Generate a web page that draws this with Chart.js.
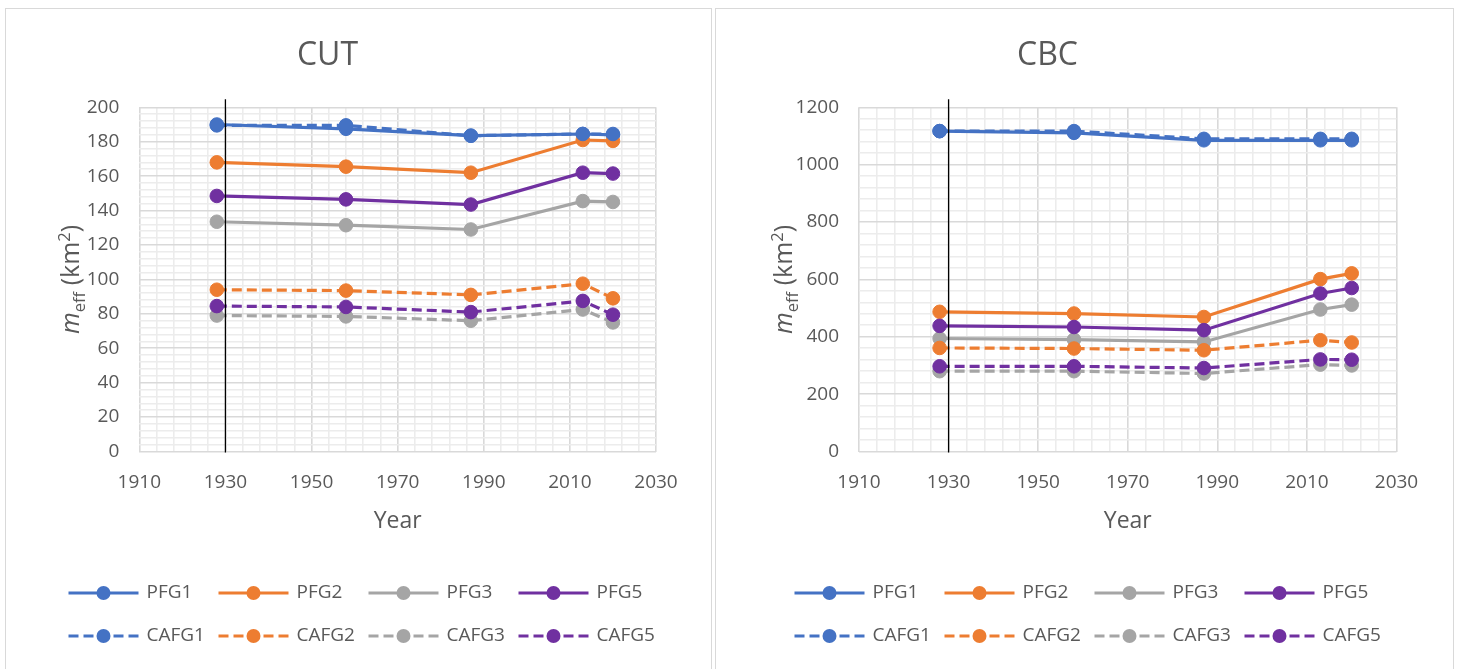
<!DOCTYPE html>
<html>
<head>
<meta charset="utf-8">
<title>Effective mesh size</title>
<script src="https://cdn.jsdelivr.net/npm/chart.js@4/dist/chart.umd.min.js"></script>
<style>
  html, body { margin: 0; padding: 0; background: #fff; width: 1458px; height: 669px; overflow: hidden; }
  .panel { position: absolute; top: 8px; height: 700px; border: 1px solid #d9d9d9; box-sizing: border-box; background: #fff; }
  #p1 { left: 5px; width: 707px; }
  #p2 { left: 715px; width: 739px; }
  .panel canvas { position: absolute; left: 0; top: 0; }
</style>
</head>
<body>
<div class="panel" id="p1"><canvas id="cut" width="705" height="660" style="width:705px;height:660px"></canvas></div>
<div class="panel" id="p2"><canvas id="cbc" width="737" height="660" style="width:737px;height:660px"></canvas></div>
<script>
// Survey years
const years = [1928, 1958, 1987, 2013, 2020];

// Tick labels
const yearTicks = [1910, 1930, 1950, 1970, 1990, 2010, 2030];
const cutTicks = [0, 20, 40, 60, 80, 100, 120, 140, 160, 180, 200];
const cbcTicks = [0, 200, 400, 600, 800, 1000, 1200];
const axisCrossYear = 1930;

// Series labels
const seriesNames = ['PFG1', 'PFG2', 'PFG3', 'PFG5', 'CAFG1', 'CAFG2', 'CAFG3', 'CAFG5'];

// CUT – effective mesh size (km²)
const cutPFG1 = [190, 187.5, 183.5, 184.5, 184];
const cutPFG2 = [168, 165.5, 162, 181, 180.5];
const cutPFG3 = [133.5, 131.5, 129, 145.5, 145];
const cutPFG5 = [148.5, 146.5, 143.5, 162, 161.5];
const cutCAFG1 = [189.5, 189.5, 183.5, 184.5, 184.5];
const cutCAFG2 = [94, 93.5, 91, 97.5, 89];
const cutCAFG3 = [79, 78.5, 76, 82.5, 75];
const cutCAFG5 = [84.5, 84, 81, 87.5, 79.5];

// CBC – effective mesh size (km²)
const cbcPFG1 = [1117, 1111, 1085, 1085, 1085];
const cbcPFG2 = [487, 481, 469, 601, 621];
const cbcPFG3 = [394, 390, 382, 495, 512];
const cbcPFG5 = [438, 434, 423, 551, 570];
const cbcCAFG1 = [1117, 1117, 1090, 1090, 1090];
const cbcCAFG2 = [361, 359, 353, 388, 380];
const cbcCAFG3 = [280, 280, 272, 303, 300];
const cbcCAFG5 = [297, 297, 291, 321, 320];

const palette = ['#4472C4', '#ED7D31', '#A5A5A5', '#7030A0'];
const textColor = '#595959';
const FONT = '"Open Sans", "Liberation Sans", sans-serif';
const DASH = [10, 5];

function makeDatasets(series) {
  return series.map((vals, i) => {
    const color = palette[i % 4];
    const dashed = i >= 4;
    return {
      label: seriesNames[i],
      data: years.map((x, k) => ({ x, y: vals[k] })),
      borderColor: color,
      backgroundColor: color,
      pointBackgroundColor: color,
      pointBorderColor: color,
      borderWidth: 3.2,
      borderDash: dashed ? DASH : [],
      pointRadius: 6.8,
      pointBorderWidth: 1,
      tension: 0,
      fill: false,
      order: -i
    };
  });
}

// Chart heading, rotated y title with sub/superscripts, the vertical axis line and the column legend
const panelDecor = {
  id: 'panelDecor',
  afterDatasetsDraw(chart) {
    const o = chart.options.plugins.panelDecor;
    const { ctx, chartArea } = chart;
    const x = chart.scales.x.getPixelForValue(o.crossAt);
    ctx.save();
    ctx.strokeStyle = '#000';
    ctx.lineWidth = 1.3;
    ctx.beginPath();
    ctx.moveTo(x, chartArea.top - 8);
    ctx.lineTo(x, chartArea.bottom + 1);
    ctx.stroke();
    ctx.restore();
  },
  afterDraw(chart) {
    const o = chart.options.plugins.panelDecor;
    const { ctx, chartArea } = chart;
    ctx.save();
    // heading
    ctx.fillStyle = textColor;
    ctx.font = `32px ${FONT}`;
    ctx.textAlign = 'center';
    ctx.textBaseline = 'middle';
    ctx.fillText(o.title, chart.width / 2 + o.titleShift, 46.5);

    // y-axis title: m_eff (km²)
    const size = 25;
    const small = size * 0.66;
    const parts = [
      { t: 'm', f: `italic ${size}px ${FONT}`, dy: 0 },
      { t: 'eff', f: `${small}px ${FONT}`, dy: size * 0.25 },
      { t: ' (km', f: `${size}px ${FONT}`, dy: 0 },
      { t: '2', f: `${small}px ${FONT}`, dy: -size * 0.36 },
      { t: ')', f: `${size}px ${FONT}`, dy: 0 }
    ];
    let total = 0;
    parts.forEach(p => { ctx.font = p.f; p.w = ctx.measureText(p.t).width; total += p.w; });
    ctx.translate(o.yTitleX, (chartArea.top + chartArea.bottom) / 2);
    ctx.rotate(-Math.PI / 2);
    ctx.textAlign = 'left';
    ctx.textBaseline = 'alphabetic';
    let px = -total / 2;
    parts.forEach(p => {
      ctx.font = p.f;
      ctx.fillText(p.t, px, size * 0.36 + p.dy);
      px += p.w;
    });
    ctx.restore();

    // legend, two rows of four columns
    ctx.save();
    const x0 = chart.width / 2 - 290;
    chart.data.datasets.forEach((ds, i) => {
      const col = i % 4, row = Math.floor(i / 4);
      const lx = x0 + col * 150;
      const ly = o.legendRows[row];
      ctx.strokeStyle = ds.borderColor;
      ctx.lineWidth = 3.2;
      ctx.setLineDash(ds.borderDash || []);
      ctx.beginPath();
      ctx.moveTo(lx, ly);
      ctx.lineTo(lx + 70, ly);
      ctx.stroke();
      ctx.setLineDash([]);
      ctx.fillStyle = ds.backgroundColor;
      ctx.beginPath();
      ctx.arc(lx + 35, ly, 7, 0, Math.PI * 2);
      ctx.fill();
      ctx.fillStyle = textColor;
      ctx.font = `19px ${FONT}`;
      ctx.textAlign = 'left';
      ctx.textBaseline = 'middle';
      ctx.fillText(ds.label, lx + 78, ly);
    });
    ctx.restore();
  }
};

function buildChart(id, series, cfg) {
  const majorY = cfg.yTicks;
  return new Chart(document.getElementById(id), {
    type: 'line',
    data: { datasets: makeDatasets(series) },
    options: {
      responsive: false,
      animation: false,
      events: [],
      layout: { padding: { top: 98.3, right: cfg.padRight, bottom: 117.5, left: 0 } },
      plugins: {
        legend: { display: false },
        tooltip: { enabled: false },
        title: { display: false },
        panelDecor: {
          title: cfg.title,
          titleShift: cfg.titleShift,
          yTitleX: cfg.yTitleX,
          crossAt: axisCrossYear,
          legendRows: [584, 627]
        }
      },
      scales: {
        x: {
          type: 'linear',
          min: yearTicks[0],
          max: yearTicks[yearTicks.length - 1],
          afterFit: s => { s.height = 100; },
          ticks: {
            stepSize: 4,
            autoSkip: false,
            maxRotation: 0,
            padding: 20,
            color: textColor,
            font: { family: FONT, size: 19 },
            callback: v => yearTicks.includes(v) ? String(v) : ''
          },
          grid: {
            drawTicks: false,
            lineWidth: 1.6,
            color: c => yearTicks.includes(c.tick.value) ? '#d9d9d9' : '#ececec'
          },
          border: { display: false },
          title: {
            display: true,
            text: 'Year',
            color: textColor,
            font: { family: FONT, size: 23 },
            padding: { top: 0, bottom: 16.7 }
          }
        },
        y: {
          type: 'linear',
          min: majorY[0],
          max: majorY[majorY.length - 1],
          afterFit: s => { s.width = cfg.yWidth; },
          ticks: {
            stepSize: cfg.yMinor,
            autoSkip: false,
            padding: 20,
            color: textColor,
            font: { family: FONT, size: 19 },
            callback: v => majorY.includes(v) ? String(v) : ''
          },
          grid: {
            drawTicks: false,
            lineWidth: 1.6,
            color: c => majorY.includes(c.tick.value) ? '#d9d9d9' : '#ececec'
          },
          border: { display: false }
        }
      }
    },
    plugins: [panelDecor]
  });
}

buildChart('cut',
  [cutPFG1, cutPFG2, cutPFG3, cutPFG5, cutCAFG1, cutCAFG2, cutCAFG3, cutCAFG5],
  { title: 'CUT', titleShift: -31, yTitleX: 64, yWidth: 133.3, padRight: 55, yTicks: cutTicks, yMinor: 4 });

buildChart('cbc',
  [cbcPFG1, cbcPFG2, cbcPFG3, cbcPFG5, cbcCAFG1, cbcCAFG2, cbcCAFG3, cbcCAFG5],
  { title: 'CBC', titleShift: -37, yTitleX: 67, yWidth: 143, padRight: 56.5, yTicks: cbcTicks, yMinor: 40 });
</script>
</body>
</html>
